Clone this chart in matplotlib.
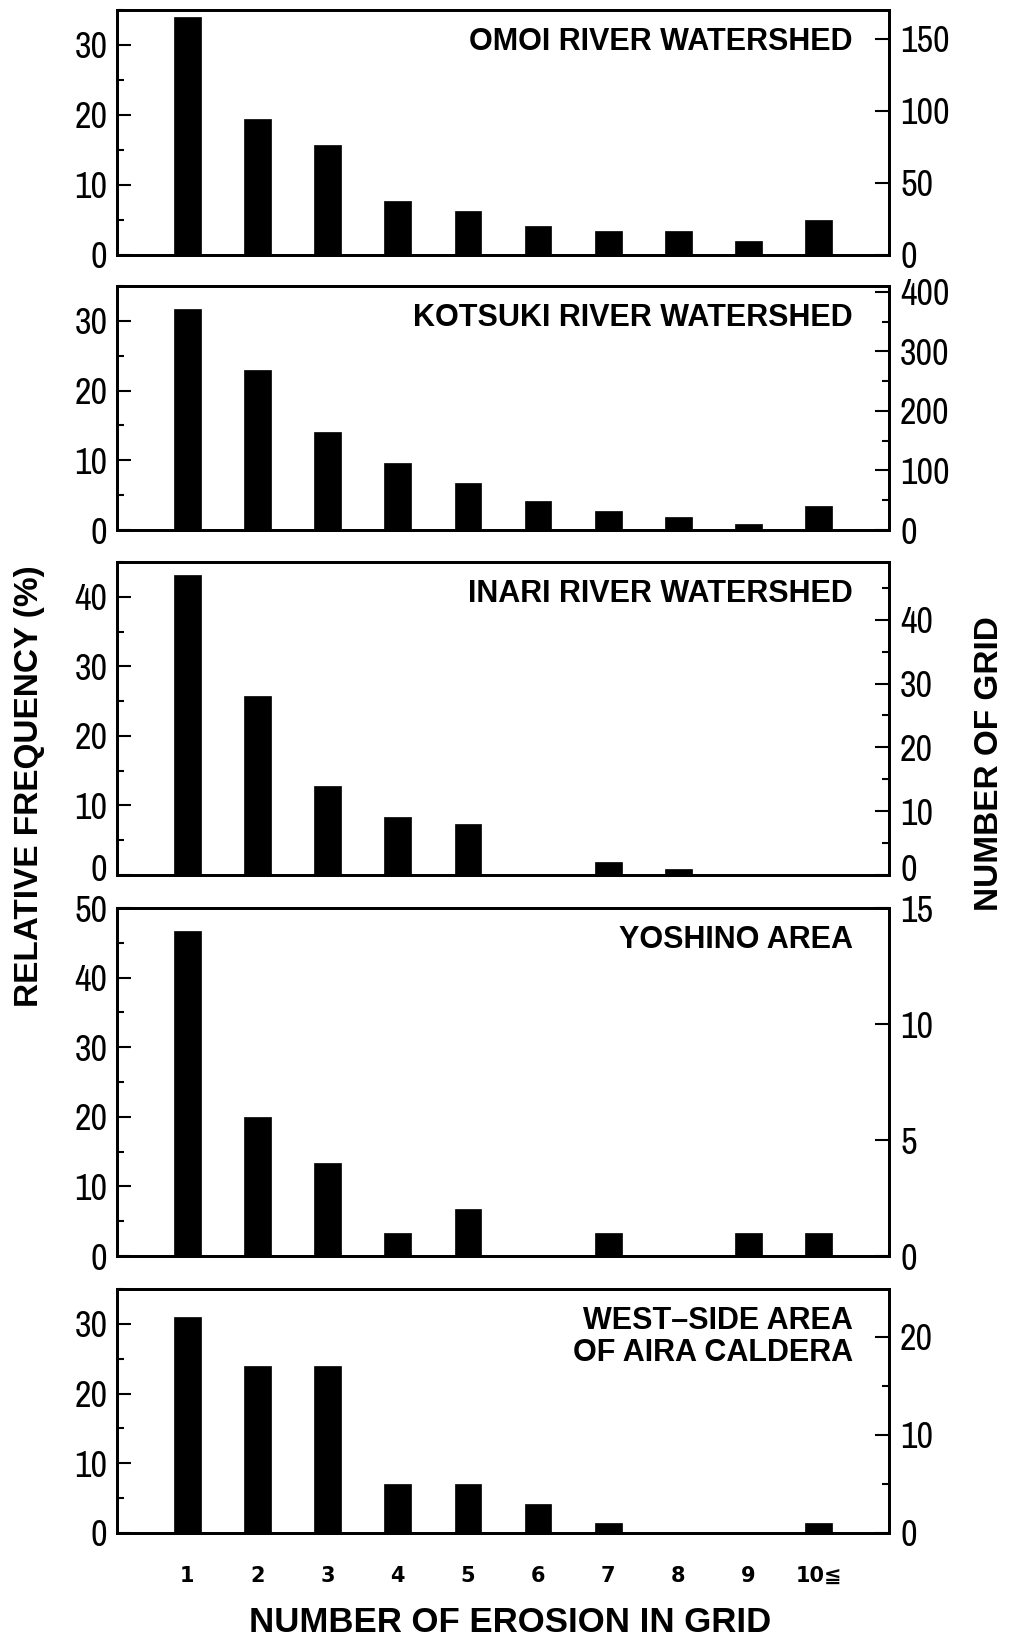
import matplotlib
matplotlib.use("Agg")
import matplotlib.pyplot as plt
from matplotlib import font_manager
from matplotlib.font_manager import FontProperties
from matplotlib.ticker import MultipleLocator, NullLocator, FuncFormatter

# ---------------- data ----------------
categories = ["1", "2", "3", "4", "5", "6", "7", "8", "9", "10≦"]
panel_titles = ["OMOI RIVER WATERSHED", "KOTSUKI RIVER WATERSHED",
                "INARI RIVER WATERSHED", "YOSHINO AREA",
                "WEST\u2013SIDE AREA\nOF AIRA CALDERA"]
omoi = [34.0, 19.4, 15.7, 7.7, 6.3, 4.1, 3.4, 3.4, 2.0, 5.0]
kotsuki = [31.7, 23.0, 14.0, 9.6, 6.7, 4.1, 2.7, 1.9, 0.9, 3.4]
inari = [43.1, 25.7, 12.8, 8.3, 7.3, 0.0, 1.8, 0.9, 0.0, 0.0]
yoshino = [46.7, 20.0, 13.3, 3.3, 6.7, 0.0, 3.3, 0.0, 3.3, 3.3]
aira = [31.0, 23.9, 23.9, 7.0, 7.0, 4.2, 1.4, 0.0, 0.0, 1.4]
total_grids = [486, 1171, 109, 30, 71]          # total number of grids per area
left_ylim = [35, 35, 45, 50, 35]
right_major = [50, 100, 10, 5, 10]
right_minor = [None, 50, 5, None, 5]
series = [omoi, kotsuki, inari, yoshino, aira]

# ---------------- fonts ----------------
cands = [f for f in font_manager.fontManager.ttflist
         if f.stretch in ("condensed", "semi-condensed", "extra-condensed")
         and f.style == "normal" and f.weight in (400, "normal", "regular", "book")]
cands.sort(key=lambda f: (0 if "Narrow" in f.name or "Liberation" in f.name else
                          1 if "DejaVu" in f.name else 2))
names = {f.name for f in font_manager.fontManager.ttflist}
if "Liberation Sans Narrow" in names:
    tick_fp = FontProperties(family="Liberation Sans Narrow", size=25)
elif cands:
    tick_fp = FontProperties(fname=cands[0].fname, size=26)
else:
    tick_fp = FontProperties(family="Liberation Sans", size=24)
bold_family = "Liberation Sans"

LPAD, RPAD = 7, 8


def skip_zero(v, pos):
    return "" if abs(v) < 1e-9 else f"{v:g}"


W, H = 1009, 1641
fig = plt.figure(figsize=(W / 100, H / 100), dpi=100)

left_px, right_px = 117, 889
panels_px = [(10, 255), (286, 530), (562, 875), (908, 1256), (1289, 1533)]

x = list(range(1, len(categories) + 1))
for i, (top, bot) in enumerate(panels_px):
    ax = fig.add_axes([left_px / W, 1 - bot / H, (right_px - left_px) / W, (bot - top) / H])
    ax.bar(x, series[i], width=0.38, color="black", edgecolor="black", linewidth=0.5)
    ax.set_xlim(0, 11)
    ax.set_ylim(0, left_ylim[i])
    ax.yaxis.set_major_locator(MultipleLocator(10))
    ax.yaxis.set_minor_locator(MultipleLocator(5))
    for s in ax.spines.values():
        s.set_linewidth(2.0)
    ax.tick_params(axis="y", which="major", direction="in", length=10, width=1.5, pad=LPAD)
    ax.tick_params(axis="y", which="minor", direction="in", length=5, width=1.5)
    ax.set_xticks(x)
    ax.tick_params(axis="x", length=0)
    if i == len(panels_px) - 1:
        ax.set_xticklabels(categories, fontsize=15, fontweight="bold",
                           family=["DejaVu Sans", "Noto Sans CJK JP"])
        ax.tick_params(axis="x", pad=24)
    else:
        ax.set_xticklabels([])

    ax2 = ax.twinx()
    ax2.set_ylim(0, left_ylim[i] * total_grids[i] / 100.0)
    ax2.yaxis.set_major_locator(MultipleLocator(right_major[i]))
    if right_minor[i]:
        ax2.yaxis.set_minor_locator(MultipleLocator(right_minor[i]))
    else:
        ax2.yaxis.set_minor_locator(NullLocator())
    ax2.tick_params(axis="y", which="major", direction="in", length=10, width=1.5, pad=RPAD)
    ax2.tick_params(axis="y", which="minor", direction="in", length=5, width=1.5)
    for s in ax2.spines.values():
        s.set_linewidth(2.0)

    if i == 2:
        # zero labels sit slightly raised so they clear the next panel's top label
        ax.yaxis.set_major_formatter(FuncFormatter(skip_zero))
        ax2.yaxis.set_major_formatter(FuncFormatter(skip_zero))
        ax.annotate("0", xy=(0, 0), xycoords=("axes fraction", "data"),
                    xytext=(-LPAD, 3), textcoords="offset points",
                    ha="right", va="center", fontproperties=tick_fp)
        ax2.annotate("0", xy=(1, 0), xycoords=("axes fraction", "data"),
                     xytext=(RPAD, 3), textcoords="offset points",
                     ha="left", va="center", fontproperties=tick_fp)

    for lab in ax.get_yticklabels():
        lab.set_fontproperties(tick_fp)
    for lab in ax2.get_yticklabels():
        lab.set_fontproperties(tick_fp)

    ax.annotate(panel_titles[i], xy=(1, 1), xycoords="axes fraction",
                xytext=(-26, -12), textcoords="offset points",
                ha="right", va="top", fontsize=22, fontweight="bold",
                family=bold_family, linespacing=1.1)

fig.text(30 / W, 1 - 786 / H, "RELATIVE FREQUENCY (%)", rotation=90,
         ha="center", va="center", fontsize=24, fontweight="bold", family=bold_family)
fig.text(989 / W, 1 - 764 / H, "NUMBER OF GRID", rotation=90,
         ha="center", va="center", fontsize=24, fontweight="bold", family=bold_family)
fig.text(510 / W, 1 - 1622 / H, "NUMBER OF EROSION IN GRID",
         ha="center", va="center", fontsize=25, fontweight="bold", family=bold_family)

fig.savefig("out.png", dpi=100, facecolor="white")
